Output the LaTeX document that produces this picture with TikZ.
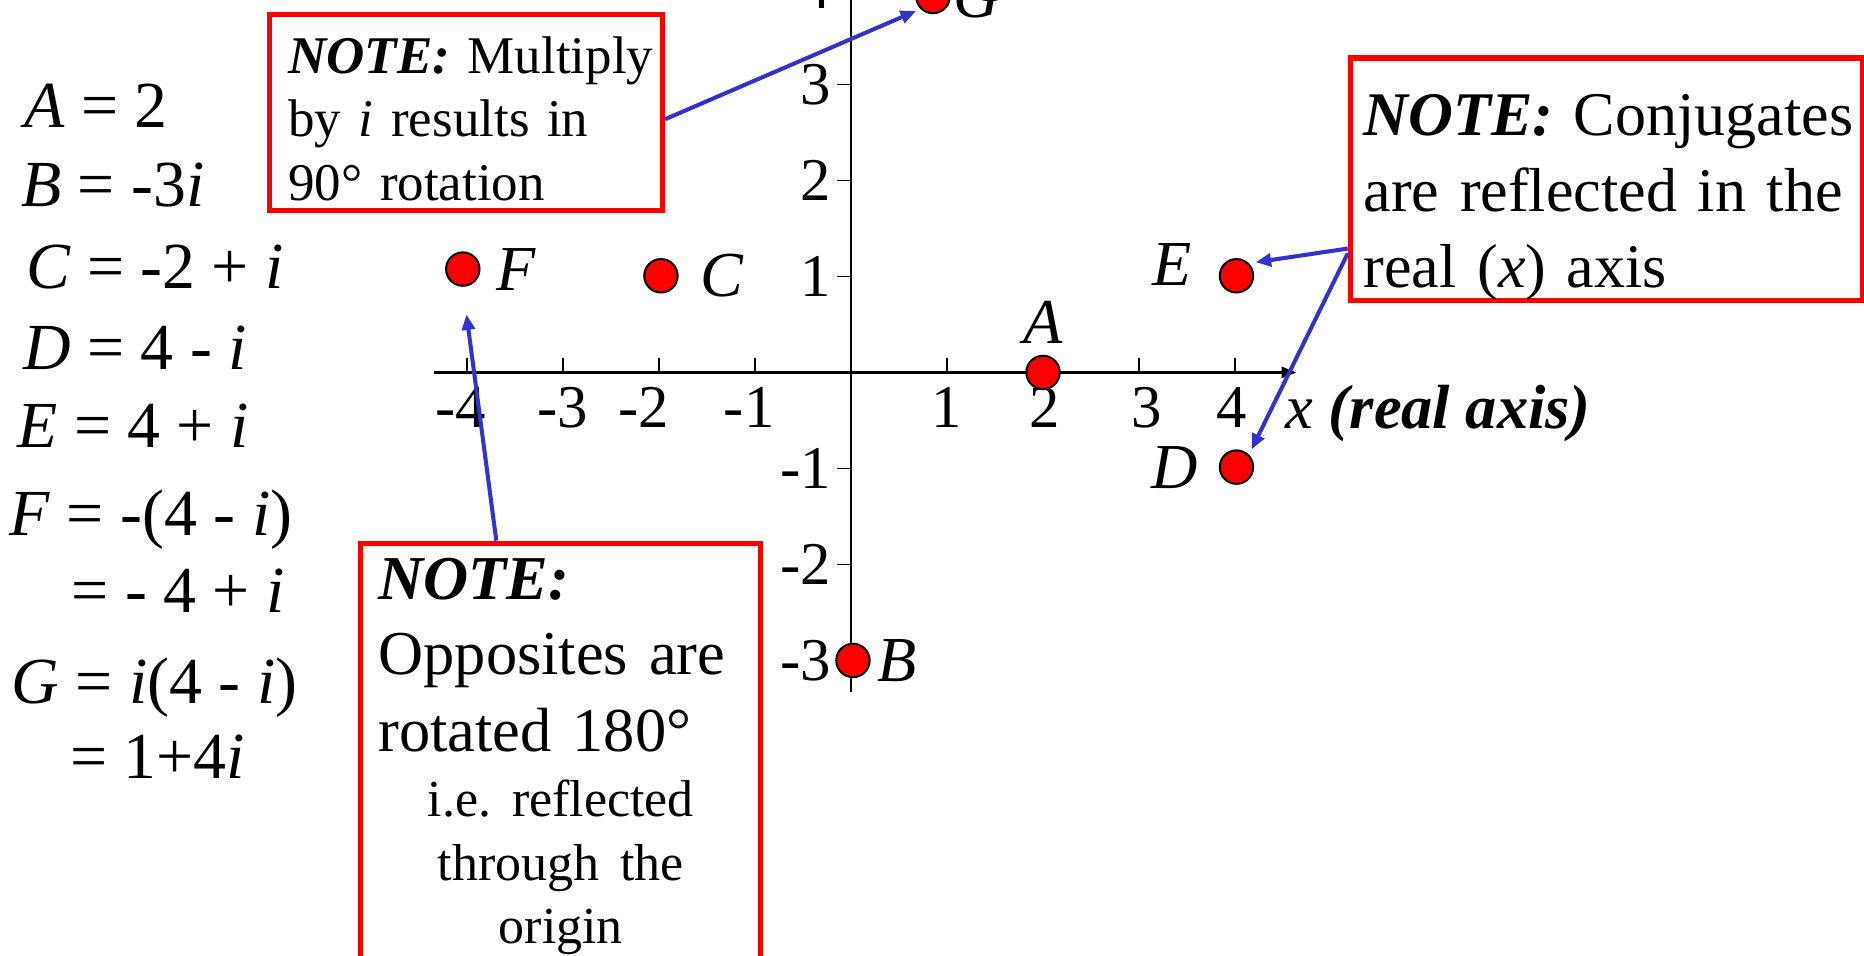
\documentclass[tikz,border=0pt]{standalone}
\usepackage{fontspec}
\setmainfont{Liberation Serif}
\usepackage{xcolor}
\usepackage{tikz}
\usetikzlibrary{arrows.meta,positioning}

\definecolor{noteblue}{RGB}{51,51,204}

\begin{document}
\frenchspacing
\begin{tikzpicture}[
  realaxis/.style={line width=1pt,-{Triangle[length=4.5pt,width=3.2pt]}},
  imagaxis/.style={line width=0.7pt},
  tick/.style={line width=0.4pt},
  ticklab/.style={font=\fontsize{18pt}{21pt}\selectfont,inner sep=0pt},
  cnum/.style={circle,fill=red,draw=black,line width=0.6pt,minimum size=0.348cm,inner sep=0pt},
  cname/.style={font=\fontsize{19pt}{22pt}\selectfont\itshape,inner sep=0pt},
  eqn/.style={font=\fontsize{19.5pt}{23pt}\selectfont,inner sep=0pt,anchor=base west},
  notebox/.style={draw=red,line width=1.5pt,inner ysep=0pt,anchor=north west},
  arr/.style={draw=noteblue,line width=1.2pt,-{Triangle[length=4.6pt,width=3.8pt]}}
]
\useasboundingbox (-8.865,-6.078) rectangle (10.552,3.880);
\clip (-8.865,-6.078) rectangle (10.552,3.880);
\fill[white] (-8.865,-6.078) rectangle (10.552,3.880);

% Equations
\node[eqn] (eqA) at (-8.62,2.548) {\textit{A} = 2};
\node[eqn] (eqB) at (-8.65,1.728) {\textit{B} = -3\textit{i}};
\node[eqn] (eqC) at (-8.60,0.876) {\textit{C} = -2 + \textit{i}};
\node[eqn] (eqD) at (-8.63,0.03) {\textit{D} = 4 - \textit{i}};
\node[eqn] (eqE) at (-8.69,-0.78) {\textit{E} = 4 + \textit{i}};
\node[eqn] (eqF) at (-8.77,-1.702) {\textit{F} = -(4 - \textit{i})};
\node[eqn] (eqFb) at (-8.126,-2.504) {= - 4 + \textit{i}};
\node[eqn] (eqG) at (-8.75,-3.444) {\textit{G} = \textit{i}(4 - \textit{i})};
\node[eqn] (eqGb) at (-8.14,-4.228) {= 1+4\textit{i}};

% Axes
\coordinate (xmin) at (-4.344,0);
\coordinate (xmax) at (4.643,0);
\coordinate (ymin) at (0,-3.33);
\coordinate (ymax) at (0,4.4);
\draw[imagaxis] (ymin) -- (ymax);
\draw[realaxis] (xmin) -- (xmax);
\draw[tick] (-4,0) -- ++(0,0.15) (-3,0) -- ++(0,0.15) (-2,0) -- ++(0,0.15) (-1,0) -- ++(0,0.15)
  (1,0) -- ++(0,0.15) (2,0) -- ++(0,0.15) (3,0) -- ++(0,0.15) (4,0) -- ++(0,0.15);
\draw[tick] (0,-3) -- ++(-0.15,0) (0,-2) -- ++(-0.15,0) (0,-1) -- ++(-0.15,0)
  (0,1) -- ++(-0.15,0) (0,2) -- ++(-0.15,0) (0,3) -- ++(-0.15,0) (0,4) -- ++(-0.15,0);

% Tick labels
\node[ticklab,anchor=north] (xm4) at (-4.07,-0.148) {-4};
\node[ticklab,anchor=north] (xm3) at (-3.0,-0.148) {-3};
\node[ticklab,anchor=north] (xm2) at (-2.16,-0.148) {-2};
\node[ticklab,anchor=north] (xm1) at (-1.06,-0.148) {-1};
\node[ticklab,anchor=north] (xp1) at (1.0,-0.148) {1};
\node[ticklab,anchor=north] (xp2) at (2.02,-0.148) {2};
\node[ticklab,anchor=north] (xp3) at (3.08,-0.148) {3};
\node[ticklab,anchor=north] (xp4) at (3.97,-0.148) {4};
\node[ticklab,anchor=east] (ym3) at (-0.2,-3) {-3};
\node[ticklab,anchor=east] (ym2) at (-0.2,-2) {-2};
\node[ticklab,anchor=east] (ym1) at (-0.2,-1) {-1};
\node[ticklab,anchor=east] (yp1) at (-0.2,1) {1};
\node[ticklab,anchor=east] (yp2) at (-0.2,2) {2};
\node[ticklab,anchor=east] (yp3) at (-0.2,3) {3};
\node[ticklab,anchor=east] (yp4) at (-0.2,4) {4};
\node[anchor=base west,inner sep=0pt,font=\fontsize{18.5pt}{22pt}\selectfont] (xname) at (4.52,-0.581) {\textit{x} \textbf{\textit{(real axis)}}};

% Points
\node[cnum] (ptA) at (2,0) {};
\node[cnum] (ptB) at (0.02,-3) {};
\node[cnum] (ptC) at (-1.98,1.007) {};
\node[cnum] (ptD) at (4.015,-0.986) {};
\node[cnum] (ptE) at (4.015,1.007) {};
\node[cnum] (ptF) at (-4.044,1.077) {};
\node[cnum] (ptG) at (0.854,3.916) {};
\node[cname,above=0.115cm of ptA] (lA) {A};
\node[cname,right=0.066cm of ptB] (lB) {B};
\node[cname,right=0.22cm of ptC] (lC) {C};
\node[cname,left=0.21cm of ptD] (lD) {D};
\node[cname,left=0.276cm of ptE,yshift=0.12cm] (lE) {E};
\node[cname,right=0.16cm of ptF] (lF) {F};
\node[cname,right=0.02cm of ptG] (lG) {G};

% Notes
\node[notebox,text width=3.706cm,inner xsep=0.192cm,align=left,
  font=\fontsize{15.7pt}{18.8pt}\selectfont] (noteG) at (-6.08,3.758)
  {\rule{0pt}{0.614cm}\mbox{\textbf{\textit{NOTE:}} Multiply}\\
   \mbox{by \textit{i} results in}\\
   \mbox{90° rotation}\rule[-0.108cm]{0pt}{0.108cm}};
\node[notebox,text width=5.053cm,inner xsep=0.139cm,align=left,
  font=\fontsize{18.4pt}{22.5pt}\selectfont] (noteC) at (5.174,3.302)
  {\rule{0pt}{0.808cm}\mbox{\textbf{\textit{NOTE:}} Conjugates}\\
   \mbox{are reflected in the}\\
   \mbox{real (\textit{x}) axis}\rule[-0.129cm]{0pt}{0.129cm}};
\node[notebox,text width=3.798cm,inner xsep=0.184cm,align=center,
  font=\fontsize{18.5pt}{18.43pt}\selectfont] (noteO) at (-5.132,-1.752)
  {\rule{0pt}{0.583cm}\makebox[\linewidth][l]{\textbf{\textit{NOTE:}}}\\[0.142cm]
   \makebox[\linewidth][l]{Opposites are}\\[0.148cm]
   \makebox[\linewidth][l]{rotated 180°}\\[0.034cm]
   {\fontsize{15.4pt}{18pt}\selectfont i.e. reflected}\\[0.02cm]
   {\fontsize{15.4pt}{18pt}\selectfont through the}\\
   {\fontsize{15.4pt}{18pt}\selectfont origin}\rule[-0.471cm]{0pt}{0.471cm}};

% Arrows
\draw[arr,shorten >=0.05cm] (noteG.358) -- (ptG.south west);
\draw[arr,shorten >=0.07cm] (noteC.195) -- (ptE.north east);
\draw[arr,shorten >=0.06cm] (noteC.196) -- (ptD.north east);
\draw[arr,shorten >=0.29cm] (noteO.106) -- (ptF.south);

\end{tikzpicture}
\end{document}
